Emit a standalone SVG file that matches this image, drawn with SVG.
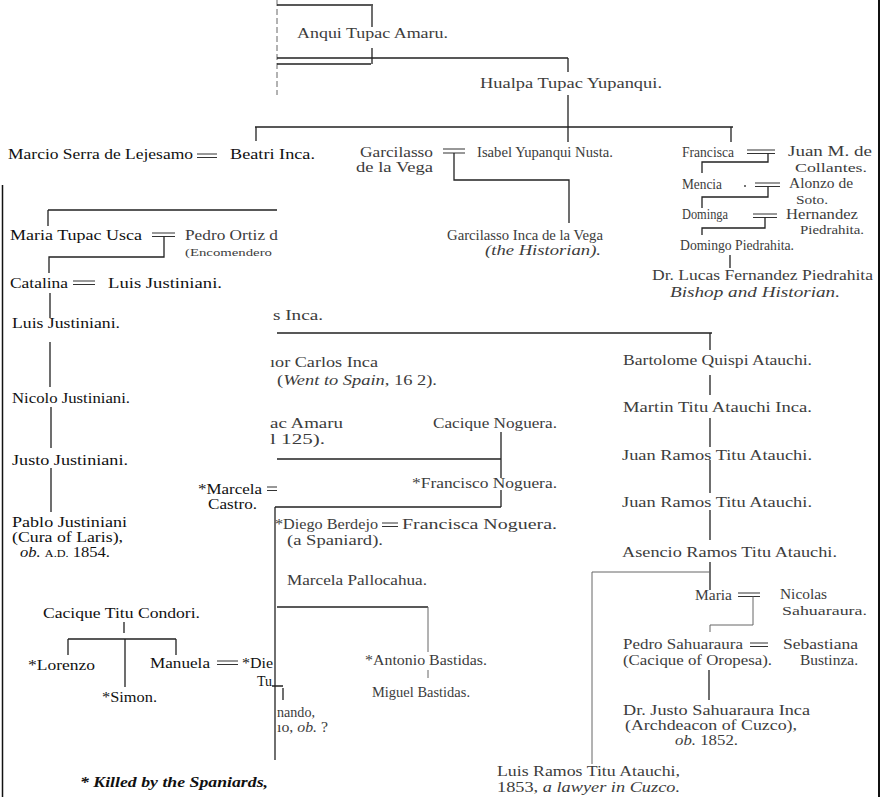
<svg xmlns="http://www.w3.org/2000/svg" width="882" height="797" viewBox="0 0 882 797">
<style>
text{font-family:"Liberation Serif","Times New Roman",serif;font-size:15px}
.b{fill:#111}
.g{fill:#3c3c3c;font-size:14.5px}
.t{font-size:13px}
.sm{font-size:10px}
.it{font-style:italic}
.bi{font-style:italic;font-weight:bold}
.ln{stroke:#222;stroke-width:1.3;fill:none}
.lt{stroke:#666;stroke-width:1;fill:none}
.eq{stroke:#333;stroke-width:1.2;fill:none}
.bd{stroke:#111;fill:none}
</style>
<rect width="882" height="797" fill="#fff"/>
<g id="borders">
<path class="bd" stroke-width="1.5" d="M2.5,185V797"/>
<path class="bd" stroke-width="2" d="M879,0V797"/>
<path class="lt" stroke-dasharray="6 3" d="M277,0V95"/>
</g>
<g id="connectors">
<path class="ln" d="M277,5H373M372,6V27M372,48V64M277,58H568M568,58V72M568,95V127M277,64H371"/>
<path class="ln" d="M255,127H733M256,127V141M568,127V142M731,127V142"/>
<path class="eq" d="M197,154H217M197,157.5H217"/>
<path class="eq" d="M443,149H465M443,153H465"/>
<path class="ln" d="M454,153V180H569V223"/>
<path class="eq" d="M747,150H775M747,153.5H775"/>
<path class="ln" d="M768,153.5V162H702V173"/>
<path class="eq" d="M755,183H780M755,186.5H780"/>
<path class="ln" d="M768,186.5V197H702V208"/>
<path class="eq" d="M753,214H777M753,217.5H777"/>
<path class="ln" d="M765,217.5V228H702V235"/>
<path class="ln" d="M730,255V268"/>
<circle cx="745" cy="186" r="1" fill="#444"/>
<path class="ln" d="M48,210H277M48,210V226"/>
<path class="eq" d="M152,233H175M152,236.5H175"/>
<path class="ln" d="M164,236.5V257H49V273"/>
<path class="eq" d="M73,281H95M73,284.5H95"/>
<path class="ln" stroke-width="1.6" d="M50,293V318M50,342V387M51,407V448M51,468V512"/>
<path class="ln" d="M124,622V633M68,639H176M68,639V655M125,639V687M176,639V655"/>
<path class="eq" d="M217,661H238M217,664.5H238"/>
<path class="ln" d="M272,686H283M283,688V700"/>
<path class="ln" d="M277,333H712M710,333V350"/>
<path class="ln" d="M277,459H501M501,432V478M501,490V507M275,507H501"/>
<path class="ln" d="M275,507V760"/>
<path class="eq" d="M267,487H277M267,490.5H277"/>
<path class="eq" d="M382,523H398M382,526.5H398"/>
<path class="ln" d="M277,607H428"/>
<path class="lt" d="M428,607V652M428,670V678"/>
<path class="ln" d="M710,375V395M710,418V447M710,460V493M710,510V540M710,562V590"/>
<path class="lt" d="M592,572H710M592,572V764"/>
<path class="eq" d="M738,593H760M738,596.5H760"/>
<path class="lt" d="M753,596.5V625H710V632"/>
<path class="eq" d="M750,643H768M750,646.5H768"/>
<path class="ln" d="M709,670V700"/>
</g>
<g id="top">
<text class="g" x="297" y="38" textLength="151" lengthAdjust="spacingAndGlyphs">Anqui Tupac Amaru.</text>
<text class="g" x="480" y="88" textLength="182" lengthAdjust="spacingAndGlyphs">Hualpa Tupac Yupanqui.</text>
</g>
<g id="marcio">
<text class="b" x="8" y="159" textLength="185" lengthAdjust="spacingAndGlyphs">Marcio Serra de Lejesamo</text>
<text class="b" x="230" y="159" textLength="85" lengthAdjust="spacingAndGlyphs">Beatri Inca.</text>
</g>
<g id="garcilasso">
<text class="g" x="360" y="157" textLength="73" lengthAdjust="spacingAndGlyphs">Garcilasso</text>
<text class="g" x="356" y="172" textLength="77" lengthAdjust="spacingAndGlyphs">de la Vega</text>
<text class="g" x="477" y="157" textLength="136" lengthAdjust="spacingAndGlyphs">Isabel Yupanqui Nusta.</text>
<text class="g" x="447" y="240" textLength="156" lengthAdjust="spacingAndGlyphs">Garcilasso Inca de la Vega</text>
<text class="g it" x="485" y="255" textLength="116" lengthAdjust="spacingAndGlyphs">(the Historian).</text>
</g>
<g id="francisca">
<text class="g" x="682" y="157" textLength="52" lengthAdjust="spacingAndGlyphs">Francisca</text>
<text class="g" x="788" y="156" textLength="84" lengthAdjust="spacingAndGlyphs">Juan M. de</text>
<text class="g t" x="795" y="172" textLength="72" lengthAdjust="spacingAndGlyphs">Collantes.</text>
<text class="g" x="682" y="189" textLength="40" lengthAdjust="spacingAndGlyphs">Mencia</text>
<text class="g" x="789" y="188" textLength="64" lengthAdjust="spacingAndGlyphs">Alonzo de</text>
<text class="g t" x="796" y="204" textLength="32" lengthAdjust="spacingAndGlyphs">Soto.</text>
<text class="g" x="682" y="219" textLength="46" lengthAdjust="spacingAndGlyphs">Dominga</text>
<text class="g" x="786" y="219" textLength="72" lengthAdjust="spacingAndGlyphs">Hernandez</text>
<text class="g t" x="800" y="234" textLength="64" lengthAdjust="spacingAndGlyphs">Piedrahita.</text>
<text class="g" x="680" y="250" textLength="114" lengthAdjust="spacingAndGlyphs">Domingo Piedrahita.</text>
<text class="g" x="652" y="280" textLength="221" lengthAdjust="spacingAndGlyphs">Dr. Lucas Fernandez Piedrahita</text>
<text class="g it" x="670" y="297" textLength="170" lengthAdjust="spacingAndGlyphs">Bishop and Historian.</text>
</g>
<g id="justiniani">
<text class="b" x="10" y="240" textLength="132" lengthAdjust="spacingAndGlyphs">Maria Tupac Usca</text>
<text class="g" x="185" y="240" textLength="93" lengthAdjust="spacingAndGlyphs">Pedro Ortiz d</text>
<text class="g sm" x="185" y="256" textLength="87" lengthAdjust="spacingAndGlyphs">(Encomendero</text>
<text class="b" x="10" y="288" textLength="58" lengthAdjust="spacingAndGlyphs">Catalina</text>
<text class="b" x="108" y="288" textLength="114" lengthAdjust="spacingAndGlyphs">Luis Justiniani.</text>
<text class="b" x="12" y="328" textLength="108" lengthAdjust="spacingAndGlyphs">Luis Justiniani.</text>
<text class="b" x="12" y="403" textLength="118" lengthAdjust="spacingAndGlyphs">Nicolo Justiniani.</text>
<text class="b" x="12" y="465" textLength="116" lengthAdjust="spacingAndGlyphs">Justo Justiniani.</text>
<text class="b" x="12" y="527" textLength="115" lengthAdjust="spacingAndGlyphs">Pablo Justiniani</text>
<text class="b" x="12" y="542" textLength="111" lengthAdjust="spacingAndGlyphs">(Cura of Laris),</text>
<text class="b" x="20" y="557" textLength="90" lengthAdjust="spacingAndGlyphs"><tspan class="it">ob.</tspan> <tspan font-size="11">A.D.</tspan> 1854.</text>
</g>
<g id="marcela">
<text class="b" x="198" y="494" textLength="64" lengthAdjust="spacingAndGlyphs">*Marcela</text>
<text class="b" x="208" y="509" textLength="49" lengthAdjust="spacingAndGlyphs">Castro.</text>
</g>
<g id="condori">
<text class="b" x="43" y="618" textLength="157" lengthAdjust="spacingAndGlyphs">Cacique Titu Condori.</text>
<text class="b" x="28" y="670" textLength="67" lengthAdjust="spacingAndGlyphs">*Lorenzo</text>
<text class="b" x="102" y="702" textLength="55" lengthAdjust="spacingAndGlyphs">*Simon.</text>
<text class="b" x="150" y="668" textLength="60" lengthAdjust="spacingAndGlyphs">Manuela</text>
<text class="b" x="242" y="668" textLength="31" lengthAdjust="spacingAndGlyphs">*Die</text>
<text class="b" x="257" y="686" textLength="15" lengthAdjust="spacingAndGlyphs">Tu</text>
</g>
<g id="note">
<text class="b bi" x="80" y="787" textLength="188" lengthAdjust="spacingAndGlyphs">* Killed by the Spaniards,</text>
</g>
<g id="carlos">
<text class="g" x="273" y="320" textLength="50" lengthAdjust="spacingAndGlyphs">s Inca.</text>
<text class="g" x="270" y="367" textLength="108" lengthAdjust="spacingAndGlyphs">ıor Carlos Inca</text>
<text class="g" x="277" y="385" textLength="160" lengthAdjust="spacingAndGlyphs">(<tspan class="it">Went to Spain</tspan>, 16 2).</text>
<text class="g" x="270" y="428" textLength="73" lengthAdjust="spacingAndGlyphs">ac Amaru</text>
<text class="g" x="270" y="444" textLength="55" lengthAdjust="spacingAndGlyphs">l 125).</text>
</g>
<g id="noguera">
<text class="g" x="433" y="428" textLength="124" lengthAdjust="spacingAndGlyphs">Cacique Noguera.</text>
<text class="g" x="412" y="488" textLength="145" lengthAdjust="spacingAndGlyphs">*Francisco Noguera.</text>
<text class="g" x="275" y="529" textLength="103" lengthAdjust="spacingAndGlyphs">*Diego Berdejo</text>
<text class="g" x="402" y="529" textLength="155" lengthAdjust="spacingAndGlyphs">Francisca Noguera.</text>
<text class="g" x="287" y="545" textLength="96" lengthAdjust="spacingAndGlyphs">(a Spaniard).</text>
<text class="g" x="287" y="585" textLength="140" lengthAdjust="spacingAndGlyphs">Marcela Pallocahua.</text>
<text class="g" x="365" y="665" textLength="122" lengthAdjust="spacingAndGlyphs">*Antonio Bastidas.</text>
<text class="g" x="372" y="697" textLength="98" lengthAdjust="spacingAndGlyphs">Miguel Bastidas.</text>
<text class="g" x="277" y="717" textLength="38" lengthAdjust="spacingAndGlyphs">nando,</text>
<text class="g" x="277" y="732" textLength="51" lengthAdjust="spacingAndGlyphs">ıo, <tspan class="it">ob.</tspan> ?</text>
</g>
<g id="atauchi">
<text class="g" x="623" y="365" textLength="189" lengthAdjust="spacingAndGlyphs">Bartolome Quispi Atauchi.</text>
<text class="g" x="623" y="412" textLength="189" lengthAdjust="spacingAndGlyphs">Martin Titu Atauchi Inca.</text>
<text class="g" x="622" y="460" textLength="190" lengthAdjust="spacingAndGlyphs">Juan Ramos Titu Atauchi.</text>
<text class="g" x="622" y="507" textLength="190" lengthAdjust="spacingAndGlyphs">Juan Ramos Titu Atauchi.</text>
<text class="g" x="622" y="557" textLength="215" lengthAdjust="spacingAndGlyphs">Asencio Ramos Titu Atauchi.</text>
</g>
<g id="sahuaraura">
<text class="g" x="695" y="600" textLength="37" lengthAdjust="spacingAndGlyphs">Maria</text>
<text class="g" x="780" y="599" textLength="47" lengthAdjust="spacingAndGlyphs">Nicolas</text>
<text class="g t" x="782" y="615" textLength="85" lengthAdjust="spacingAndGlyphs">Sahuaraura.</text>
<text class="g" x="623" y="649" textLength="120" lengthAdjust="spacingAndGlyphs">Pedro Sahuaraura</text>
<text class="g" x="783" y="649" textLength="75" lengthAdjust="spacingAndGlyphs">Sebastiana</text>
<text class="g" x="623" y="665" textLength="149" lengthAdjust="spacingAndGlyphs">(Cacique of Oropesa).</text>
<text class="g" x="800" y="665" textLength="58" lengthAdjust="spacingAndGlyphs">Bustinza.</text>
<text class="g" x="623" y="715" textLength="187" lengthAdjust="spacingAndGlyphs">Dr. Justo Sahuaraura Inca</text>
<text class="g" x="625" y="730" textLength="172" lengthAdjust="spacingAndGlyphs">(Archdeacon of Cuzco),</text>
<text class="g" x="675" y="745" textLength="63" lengthAdjust="spacingAndGlyphs"><tspan class="it">ob.</tspan> 1852.</text>
</g>
<g id="luis-ramos">
<text class="g" x="497" y="776" textLength="183" lengthAdjust="spacingAndGlyphs">Luis Ramos Titu Atauchi,</text>
<text class="g" x="497" y="792" textLength="183" lengthAdjust="spacingAndGlyphs">1853, <tspan class="it">a lawyer in Cuzco.</tspan></text>
</g>
</svg>
